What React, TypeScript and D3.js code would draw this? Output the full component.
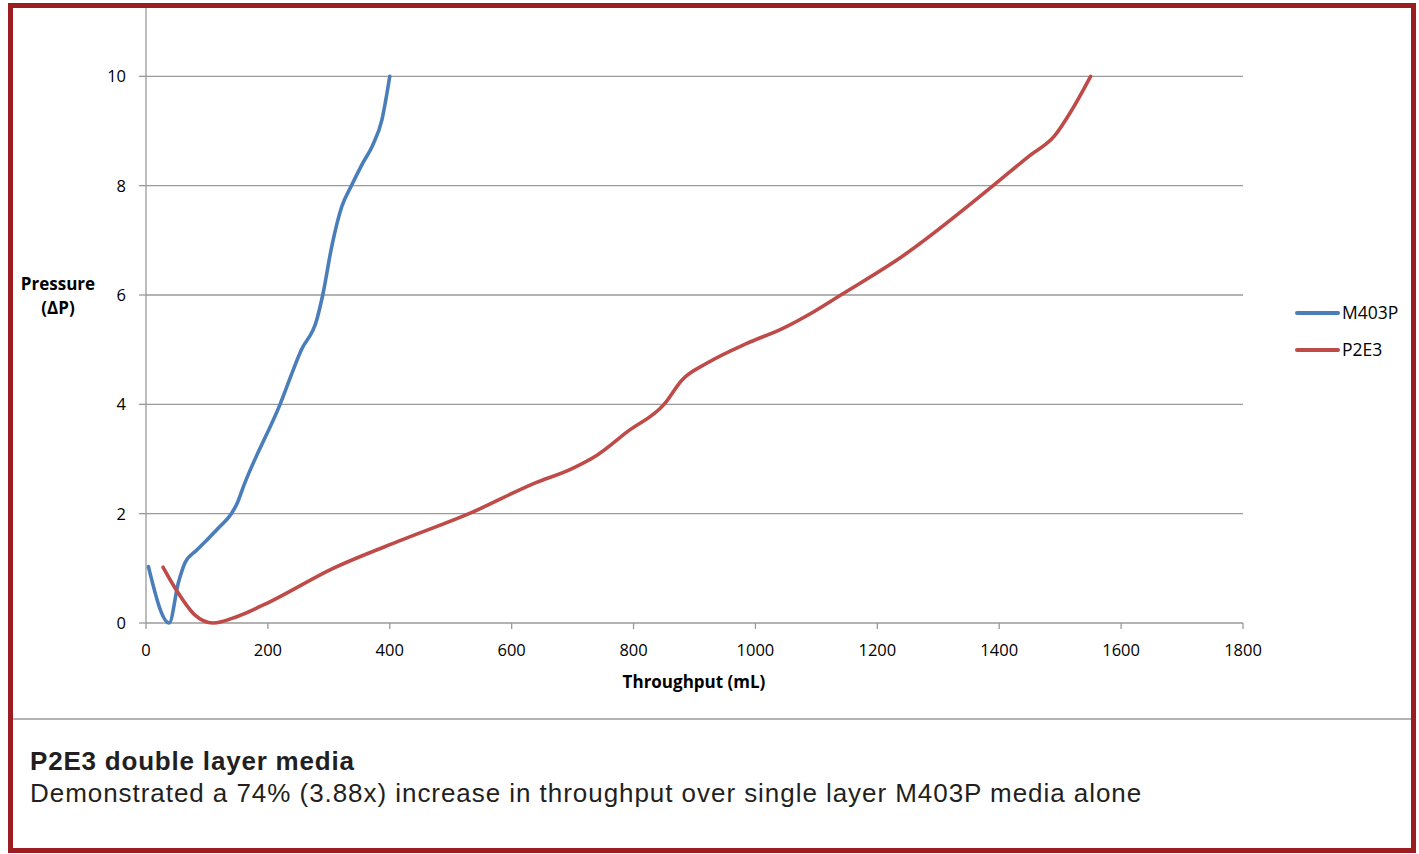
import React from "react";
import * as d3 from "d3";

// readings (throughput in mL, pressure ΔP)
const m403pX = [4, 38, 53, 64, 83, 100, 120, 140, 150, 160, 220, 255, 280, 290, 305, 321, 337, 355, 372, 387, 400];
const m403pY = [1.03, 0, 0.73, 1.1, 1.33, 1.52, 1.75, 2.0, 2.2, 2.5, 4.0, 5.0, 5.54, 6.0, 6.9, 7.61, 8.0, 8.4, 8.74, 9.2, 10];

const p2e3X = [28, 50, 80, 110, 150, 200, 307, 420, 530, 636, 700, 740, 790, 850, 880, 920, 985, 1045, 1095, 1140, 1240, 1390, 1450, 1490, 1520, 1550];
const p2e3Y = [1.02, 0.6, 0.15, 0, 0.12, 0.37, 1.0, 1.52, 2.0, 2.55, 2.83, 3.07, 3.5, 4.0, 4.45, 4.75, 5.11, 5.39, 5.69, 6.0, 6.7, 8.0, 8.55, 8.9, 9.4, 10];

const seriesNames = ["M403P", "P2E3"];
const seriesColors = ["#4a7ebb", "#be4b48"];

const xTicks = [0, 200, 400, 600, 800, 1000, 1200, 1400, 1600, 1800];
const yTicks = [0, 2, 4, 6, 8, 10];

const title = "P2E3 double layer media";
const subtitle = "Demonstrated a 74% (3.88x) increase in throughput over single layer M403P media alone";

const W = 1419;
const H = 854;
const tickFont = "'Open Sans', 'Liberation Sans', sans-serif";
const captionFont = "'Liberation Sans', Arial, sans-serif";

export default function App() {
  const x = d3.scaleLinear().domain([0, 1800]).range([146, 1243]);
  const y = d3.scaleLinear().domain([0, 11.25]).range([623, 8]);

  const line = d3
    .line<[number, number]>()
    .x((d) => x(d[0]))
    .y((d) => y(d[1]))
    .curve(d3.curveMonotoneX);

  const series = [
    m403pX.map((v, i) => [v, m403pY[i]] as [number, number]),
    p2e3X.map((v, i) => [v, p2e3Y[i]] as [number, number]),
  ];

  return (
    <svg
      width={W}
      height={H}
      style={{ position: "absolute", left: 0, top: 0, background: "#fff" }}
    >
      {/* gridlines */}
      {yTicks
        .filter((t) => t > 0)
        .map((t) => (
          <line key={t} x1={x(0)} x2={x(1800)} y1={y(t)} y2={y(t)} stroke="#9a9a9a" strokeWidth={1.3} />
        ))}

      {/* axes */}
      <line x1={x(0)} x2={x(0)} y1={y(0)} y2={y(11.25)} stroke="#9a9a9a" strokeWidth={1.3} />
      <line x1={x(0)} x2={x(1800)} y1={y(0)} y2={y(0)} stroke="#9a9a9a" strokeWidth={1.3} />
      {yTicks.map((t) => (
        <g key={"y" + t}>
          <line x1={x(0) - 7} x2={x(0)} y1={y(t)} y2={y(t)} stroke="#9a9a9a" strokeWidth={1.3} />
          <text x={x(0) - 20} y={y(t)} dy="0.36em" textAnchor="end" fontFamily={tickFont} fontSize={16.5} fill="#000">
            {t}
          </text>
        </g>
      ))}
      {xTicks.map((t) => (
        <g key={"x" + t}>
          <line x1={x(t)} x2={x(t)} y1={y(0)} y2={y(0) + 6} stroke="#9a9a9a" strokeWidth={1.3} />
          <text x={x(t)} y={656} textAnchor="middle" fontFamily={tickFont} fontSize={16.5} fill="#000">
            {t}
          </text>
        </g>
      ))}

      {/* axis titles */}
      <text x={58} y={290} textAnchor="middle" fontFamily={tickFont} fontWeight="bold" fontSize={17}>
        Pressure
      </text>
      <text x={58} y={314} textAnchor="middle" fontFamily={tickFont} fontWeight="bold" fontSize={17}>
        (ΔP)
      </text>
      <text x={694} y={688} textAnchor="middle" fontFamily={tickFont} fontWeight="bold" fontSize={17}>
        Throughput (mL)
      </text>

      {/* curves */}
      {series.map((s, i) => (
        <path
          key={seriesNames[i]}
          d={line(s) || ""}
          fill="none"
          stroke={seriesColors[i]}
          strokeWidth={3.6}
          strokeLinejoin="round"
          strokeLinecap="round"
        />
      ))}

      {/* legend */}
      {seriesNames.map((n, i) => (
        <g key={"leg" + n} transform={`translate(1297,${313 + i * 37})`}>
          <line x1={0} x2={41} y1={0} y2={0} stroke={seriesColors[i]} strokeWidth={4} strokeLinecap="round" />
          <text x={45} y={0} dy="0.36em" fontFamily={tickFont} fontSize={17.5} fill="#000">
            {n}
          </text>
        </g>
      ))}

      {/* caption */}
      <line x1={10} x2={1414} y1={719} y2={719} stroke="#9a9a9a" strokeWidth={1.5} />
      <text x={30} y={770} fontFamily={captionFont} fontWeight="bold" fontSize={26} letterSpacing={0.8} fill="#231f20">
        {title}
      </text>
      <text x={30} y={802} fontFamily={captionFont} fontSize={26} letterSpacing={0.95} fill="#231f20">
        {subtitle}
      </text>

      {/* frame */}
      <rect x={10.5} y={5.5} width={1403} height={845} fill="none" stroke="#9a1d22" strokeWidth={5} />
    </svg>
  );
}
